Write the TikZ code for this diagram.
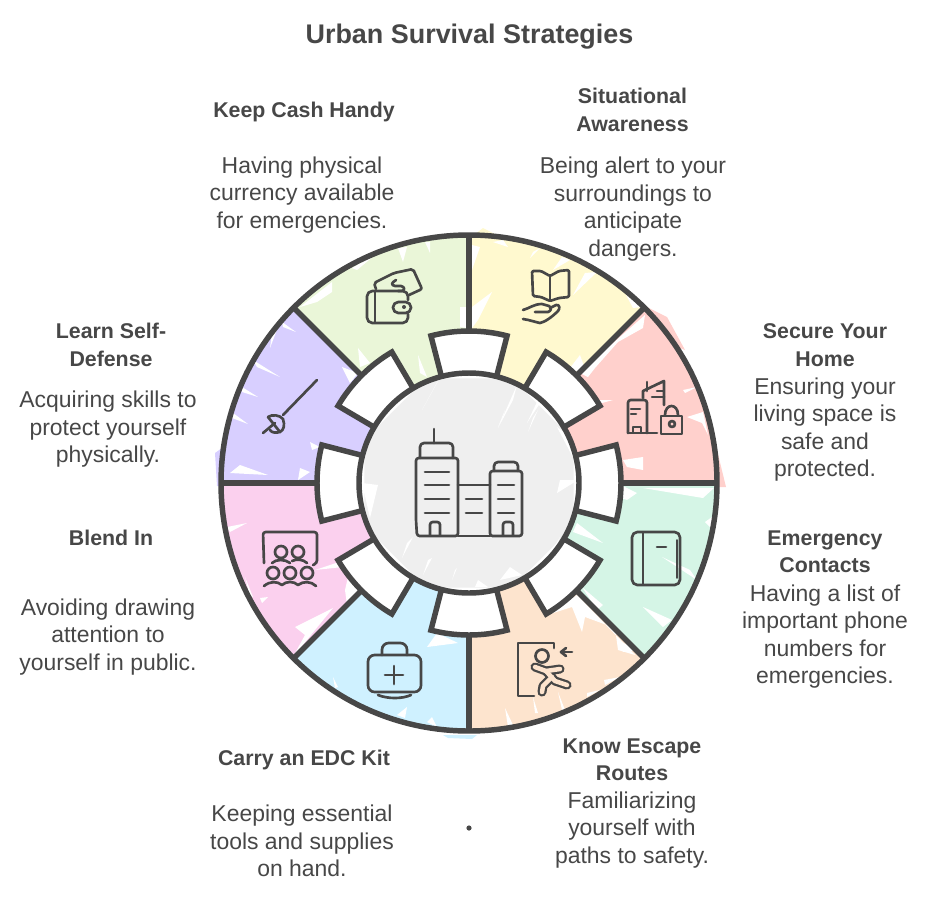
\documentclass[tikz,border=0pt]{standalone}
\usepackage{fontspec}
\setmainfont{Liberation Sans}
\definecolor{ink}{HTML}{474747}
\definecolor{cgreen}{HTML}{EAF6D8}
\definecolor{cyellow}{HTML}{FFF9CF}
\definecolor{cpink}{HTML}{FFD0CC}
\definecolor{cmint}{HTML}{D5F5E6}
\definecolor{corange}{HTML}{FDE4CE}
\definecolor{cblue}{HTML}{CFF1FF}
\definecolor{cmag}{HTML}{FBD0EE}
\definecolor{cpurple}{HTML}{D8CFFF}
\definecolor{cgrey}{HTML}{EFEFEF}
\newcommand{\wt}[1]{\fill[white] #1 -- cycle;}
\newcommand{\colfill}[2]{\fill[#1] #2 -- cycle;}
% sector: start angle, end angle, colour
\newcommand{\sect}[3]{\fill[#3] (469,483) ++(#1:248) arc[start angle=#1,end angle=#2,radius=248] -- (469,483) -- cycle;}
% tab and spoke at a given angle
\newcommand{\spoke}[1]{%
 \pgfmathsetmacro{\aa}{#1-14.5}\pgfmathsetmacro{\bb}{#1+14.5}%
 \filldraw[ringline,fill=white] (469,483) ++(\aa:108) -- ++(\aa:44) arc[start angle=\aa,end angle=\bb,radius=152] -- ++(\bb:-44);
 \draw[ringline] (469,483) ++(#1:152) -- ++(#1:96);}
\tikzset{
 ringline/.style={draw=ink,line width=4.1pt,line join=miter},
 icon/.style={draw=ink,line width=2pt,line cap=round,line join=round,fill=none},
 limbout/.style={draw=ink,line width=6.8pt,line cap=round,line join=round},
 limbin/.style={draw=corange,line width=3.4pt,line cap=round,line join=round},
 bodytext/.style={text=ink,align=center,font=\fontsize{17.2pt}{20.6pt}\selectfont,inner sep=0pt},
 headtext/.style={text=ink,align=center,font=\fontsize{16pt}{20.6pt}\selectfont\bfseries,inner sep=0pt},
 titletext/.style={text=ink,font=\fontsize{20.2pt}{24pt}\selectfont\bfseries,inner sep=0pt},
}
\begin{document}
\begin{tikzpicture}[x=0.75pt,y=-0.75pt]
\path[use as bounding box] (0,0) rectangle (932,897);
% overflows behind the sectors
\colfill{cyellow}{(483,228)--(495,234)--(470,238)}
\colfill{cyellow}{(459,290)--(470,270)--(470,302)}
\colfill{cpink}{(645,306)--(667,317)--(685,350)--(660,340)}
\colfill{cpink}{(717,450)--(726,487)--(715,487)}
\colfill{cpurple}{(215,453)--(222,448)--(222,486)--(217,486)}
\colfill{cpurple}{(295,302)--(352,355)--(340,355)}
\colfill{cblue}{(443,735)--(477,735)--(472,739)--(448,738)}
\colfill{cblue}{(460,640)--(474,640)--(474,655)}
\colfill{corange}{(458,668)--(470,662)--(470,730)--(462,730)}
\colfill{cmint}{(625,485)--(718,485)--(700,492)--(640,492)}
\sect{-90}{-45}{cyellow}
\sect{-45}{0}{cpink}
\sect{0}{45}{cmint}
\sect{45}{90}{corange}
\sect{90}{135}{cblue}
\sect{135}{180}{cmag}
\sect{180}{225}{cpurple}
\sect{225}{270}{cgreen}
% white streaks: green
\wt{(300,307)--(332,282)--(332,292)--(317,302)}
\wt{(352,268)--(375,255)--(357,270)}
\wt{(398,248)--(403,262)--(407,247)}
\wt{(425,242)--(430,253)--(430,242)}
\wt{(460,307)--(467,307)--(467,328)--(460,327)}
\wt{(358,348)--(370,363)--(360,367)}
\wt{(393,360)--(403,385)--(397,377)}
\wt{(418,355)--(427,377)--(420,373)}
% yellow
\wt{(472,245)--(480,247)--(472,270)}
\wt{(493,242)--(508,247)--(503,240)}
\wt{(472,307)--(492,292)--(478,320)--(472,328)}
\wt{(533,252)--(540,248)--(530,258)}
\wt{(562,257)--(570,260)--(553,270)}
\wt{(597,272)--(573,295)--(585,273)}
\wt{(626,295)--(642,307)--(633,308)}
\wt{(570,368)--(580,355)--(588,377)}
% pink
\wt{(645,315)--(643,328)--(618,342)--(595,368)--(588,377)--(580,372)}
\wt{(598,400)--(613,400)--(602,403)}
\wt{(683,390)--(697,387)--(685,393)}
\wt{(687,417)--(703,412)--(708,435)--(702,423)}
\wt{(623,460)--(643,457)--(643,470)--(627,467)}
% mint
\wt{(590,486)--(623,486)--(637,493)--(627,500)}
\wt{(643,488)--(714,488)--(703,498)}
\wt{(577,523)--(603,543)--(573,532)}
\wt{(560,548)--(592,568)--(567,548)}
\wt{(662,557)--(697,580)--(690,570)}
\wt{(643,607)--(672,620)--(663,627)}
\wt{(582,587)--(603,605)--(597,610)}
\wt{(617,640)--(638,650)--(623,652)}
\wt{(705,522)--(712,517)--(713,530)}
% orange
\wt{(577,595)--(635,655)--(618,650)--(615,628)--(585,617)--(582,632)--(572,607)--(547,615)}
\wt{(604,680)--(620,677)--(605,685)}
\wt{(587,693)--(600,690)--(587,697)}
\wt{(558,692)--(565,710)--(562,710)}
\wt{(533,697)--(538,713)--(535,713)}
\wt{(505,708)--(513,725)--(508,727)}
% blue
\wt{(427,647)--(437,633)--(458,643)}
\wt{(388,607)--(403,587)--(395,607)}
\wt{(333,677)--(338,687)--(335,688)}
\wt{(397,715)--(407,707)--(405,718)}
\wt{(427,722)--(432,717)--(437,727)}
% magenta
\wt{(315,570)--(345,560)--(343,567)}
\wt{(348,577)--(362,593)--(347,605)--(345,590)}
\wt{(295,627)--(333,608)--(293,657)--(305,635)}
\wt{(227,527)--(247,523)--(230,532)}
\wt{(245,577)--(253,597)--(250,597)}
\wt{(260,598)--(268,597)--(262,603)}
% purple
\wt{(253,360)--(280,377)--(257,367)}
\wt{(282,322)--(296,332)--(283,327)}
\wt{(242,387)--(258,397)--(242,392)}
\wt{(233,413)--(248,424)--(232,418)}
\wt{(272,333)--(278,327)--(270,348)}
\wt{(230,473)--(240,465)--(268,475)}
\wt{(300,468)--(310,472)--(298,480)}
\wt{(310,442)--(320,447)--(312,450)}
\wt{(342,367)--(358,373)--(350,383)}
% centre disc
\fill[cgrey] (469,483) circle[radius=111];
\wt{(517,385)--(498,428)--(513,400)}
\wt{(542,400)--(527,423)--(537,402)}
\wt{(440,377)--(422,410)--(437,383)}
\wt{(557,427)--(570,437)--(578,467)}
\wt{(362,483)--(378,485)--(370,518)}
\wt{(413,537)--(402,558)--(407,543)}
\wt{(432,558)--(423,575)--(428,560)}
\wt{(457,568)--(452,580)--(455,570)}
\wt{(560,480)--(578,480)--(557,493)}
\wt{(560,537)--(553,555)--(543,567)}
\wt{(510,567)--(522,575)--(500,580)}
\wt{(478,580)--(488,587)--(475,587)}
\wt{(505,410)--(498,427)--(503,417)}
\wt{(538,410)--(528,432)--(533,418)}
% tabs and spokes
\spoke{-90}\spoke{-45}\spoke{0}\spoke{45}\spoke{90}\spoke{135}\spoke{180}\spoke{225}
\draw[ringline] (469,483) circle[radius=248];
\draw[ringline] (469,483) circle[radius=110];
% centre icon
\draw[icon] (434,429)--(434,443);
\draw[icon,rounded corners=3] (420,458)--(420,443)--(453,443)--(453,458);
\draw[icon,rounded corners=2] (417,536)--(416,520)--(416,458)--(458,458)--(458,536)--cycle;
\foreach \yy in {472,485,499,513}{\draw[icon] (425,\yy)--(449,\yy);}
\draw[icon,rounded corners=2] (430,535)--(430,522)--(440,522)--(440,535);
\draw[icon] (458,485)--(490,485);
\draw[icon] (458,536)--(490,536);
\foreach \yy in {499,513}{\draw[icon] (466,\yy)--(482,\yy);}
\draw[icon,rounded corners=2] (490,536)--(490,471)--(522,471)--(522,536)--cycle;
\draw[icon,rounded corners=3] (494,471)--(494,462)--(518,462)--(518,471);
\foreach \yy in {485,499,513}{\draw[icon] (498,\yy)--(514,\yy);}
\draw[icon,rounded corners=2] (503,535)--(503,522)--(513,522)--(513,535);
% wallet
\draw[icon,rounded corners=4] (408,300)--(408,291)--(367,291)--(367,323)--(408,323)--(408,314);
\draw[icon] (375,292)--(375,322);
\draw[icon,rounded corners=4] (393,302)--(411,302)--(411,313)--(393,313)--cycle;
\fill[ink] (404,307) circle[radius=2];
\draw[icon,rounded corners=1.5] (376,289)--(374,283)--(394,273)--(413,269)--(422,289)--(409,295);
\draw[icon] (396,280) .. controls (391,283) and (391,285) .. (395,286) -- (401,286) .. controls (405,287) and (405,290) .. (402,291) -- (398,291);
% book and hand
\draw[icon,rounded corners=1] (550,276)--(541,271)--(532,271)--(533,296)--(541,297)--(550,301)--(559,298)--(569,297)--(569,270)--(559,271)--cycle;
\draw[icon] (550,276)--(550,300);
\draw[icon] (523,310) .. controls (530,308) and (534,304) .. (542,304) -- (549,306) .. controls (552,308) and (551,311) .. (548,312) -- (535,312);
\draw[icon] (550,308) -- (556,305) .. controls (560,304) and (560,309) .. (558,311) .. controls (552,317) and (545,322) .. (540,323) .. controls (535,322) and (530,320) .. (523,319);
% city and lock
\draw[icon,rounded corners=2] (628,433)--(628,400)--(647,400)--(647,433);
\draw[icon] (628,433)--(657,433);
\draw[icon] (631,409)--(640,409);
\draw[icon] (631,414)--(636,414);
\draw[icon] (633,432)--(633,427)--(641,427)--(641,432);
\draw[icon] (643,398)--(643,391)--(664,381)--(664,405);
\draw[icon] (647,382)--(647,391);
\draw[icon] (652,397)--(664,397);
\draw[icon] (657,391)--(663,391);
\draw[icon] (661,416)--(682,416)--(682,434)--(661,434)--cycle;
\draw[icon] (665,415) .. controls (665,403) and (678,403) .. (678,415);
\draw[icon] (672,424) circle[radius=3];
% notebook
\draw[icon,rounded corners=4] (632,532)--(680,532)--(680,585)--(632,585)--cycle;
\draw[icon] (643,533)--(643,584);
\draw[icon] (657,547)--(666,547);
\draw[icon,line width=1.3pt] (677,540)--(677,578);
% runner
\draw[icon] (554,648)--(554,643)--(518,643)--(518,696)--(534,696);
\draw[icon] (572,652)--(561,652);
\draw[icon] (566,648)--(561,652)--(566,656);
\draw[icon] (542,656) circle[radius=6.5];
\draw[limbout] (535,667)--(546,671)--(560,669);
\draw[limbout] (546,671)--(555,681)--(567,685);
\draw[limbout] (552,677)--(543,686)--(542,692);
\draw[limbin] (535,667)--(546,671)--(560,669);
\draw[limbin] (546,671)--(555,681)--(567,685);
\draw[limbin] (552,677)--(543,686)--(542,692);
% briefcase
\draw[icon,rounded corners=5] (368,655)--(421,655)--(421,692)--(368,692)--cycle;
\draw[icon] (378,695) .. controls (388,699) and (402,699) .. (411,695);
\draw[icon,rounded corners=5] (382,655)--(382,643)--(407,643)--(407,655);
\draw[icon] (394,666)--(394,684);
\draw[icon] (385,675)--(403,675);
% audience
\draw[icon,rounded corners=2] (264,563)--(263,532)--(317,532)--(317,563)--(313,565);
\draw[icon] (281,552) circle[radius=6];
\draw[icon] (298,552) circle[radius=6];
\draw[icon] (272,563) .. controls (276,559) and (285,559) .. (290,563);
\draw[icon] (292,561) .. controls (296,559) and (303,559) .. (307,563);
\draw[icon] (273,573) circle[radius=6];
\draw[icon] (290,573) circle[radius=6];
\draw[icon] (307,573) circle[radius=6];
\draw[icon] (264,586) .. controls (270,581) and (277,581) .. (282,585) .. controls (286,581) and (294,581) .. (298,585) .. controls (303,581) and (311,581) .. (316,586);
% fencing sword
\draw[icon] (317,380)--(283,415);
\draw[icon] (268,417) .. controls (272,414) and (280,415) .. (283,419) .. controls (285,425) and (284,430) .. (280,432) .. controls (276,433) and (272,433) .. (270,430);
\draw[icon] (268,417)--(280,432);
\draw[icon] (263,433)--(275,423);
% texts
\node[titletext] (title) at (469.5,37) {Urban Survival Strategies};
\node[headtext] (cashh) at (304,112) {Keep Cash Handy};
\node[bodytext] (cashd) at (302,195) {Having physical\\currency available\\for emergencies.};
\node[headtext] (awareh) at (632.5,110) {Situational\\Awareness};
\node[bodytext] (awared) at (633,209) {Being alert to your\\surroundings to\\anticipate\\dangers.};
\node[headtext] (homeh) at (825,345) {Secure Your\\Home};
\node[bodytext] (homed) at (825,429.5) {Ensuring your\\living space is\\safe and\\protected.};
\node[headtext] (conth) at (825,552) {Emergency\\Contacts};
\node[bodytext] (contd) at (825,636.5) {Having a list of\\important phone\\numbers for\\emergencies.};
\node[headtext] (esch) at (632,760) {Know Escape\\Routes};
\node[bodytext] (escd) at (632,830) {Familiarizing\\yourself with\\paths to safety.};
\node[headtext] (edch) at (304,760) {Carry an EDC Kit};
\node[bodytext] (edcd) at (302,841) {Keeping essential\\tools and supplies\\on hand.};
\node[headtext] (blendh) at (111,538) {Blend In};
\node[bodytext] (blendd) at (108,637) {Avoiding drawing\\attention to\\yourself in public.};
\node[headtext] (defh) at (111,345) {Learn Self-\\Defense};
\node[bodytext] (defd) at (108,429.5) {Acquiring skills to\\protect yourself\\physically.};
\fill[ink] (469,828) circle[radius=2.6];
\end{tikzpicture}
\end{document}
